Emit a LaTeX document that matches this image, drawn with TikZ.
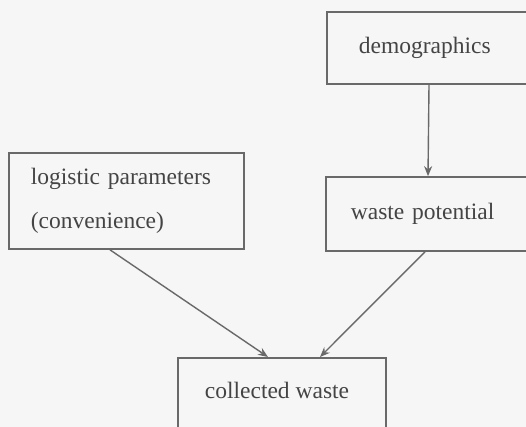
\documentclass[tikz,border=0pt]{standalone}
\usepackage{fontspec}
\setmainfont{Liberation Serif}
\usetikzlibrary{arrows.meta}
\definecolor{scanline}{RGB}{105,105,105}
\definecolor{scantext}{RGB}{68,68,68}
\definecolor{scanpaper}{RGB}{246,246,246}

\begin{document}
\begin{tikzpicture}[x=1pt, y=-1pt,
    factor/.style={draw=scanline, line width=1.7pt, text=scantext, anchor=west,
        font=\fontsize{23.5}{44}\selectfont, inner ysep=0pt},
    flow/.style={draw=scanline, line width=1.4pt, -{Stealth[length=10pt, width=8pt]}}]
    % page and frame
    \fill[scanpaper] (0,0) rectangle (526,427);
    \useasboundingbox (0,0) rectangle (526,427);
    \clip (0,0) rectangle (526,427);
    % boxes
    \node[factor, text width=220pt, align=left, inner xsep=32pt, minimum height=72pt] (demo) at (326,48) {demographics};
    \node[factor, text width=220pt, align=left, inner xsep=25pt, minimum height=74pt] (wpot) at (325,214) {waste potential};
    \node[factor, text width=191pt, align=left, inner xsep=22pt, minimum height=96pt] (logi) at (8,201) {logistic parameters\\(convenience)};
    \node[factor, minimum width=208pt, minimum height=100pt, anchor=north west, text depth=0pt] (coll) at (177,357) {};
    \node[text=scantext, font=\fontsize{23.5}{44}\selectfont] (colltxt) at (277,390) {collected waste};
    % arrows
    \draw[flow] ([xshift=103pt]demo.south west) -- ([xshift=103pt]wpot.north west);
    \draw[flow] ([xshift=102pt]logi.south west) -- ([xshift=91pt]coll.north west);
    \draw[flow] ([xshift=100pt]wpot.south west) -- ([xshift=143pt]coll.north west);
\end{tikzpicture}
\end{document}
